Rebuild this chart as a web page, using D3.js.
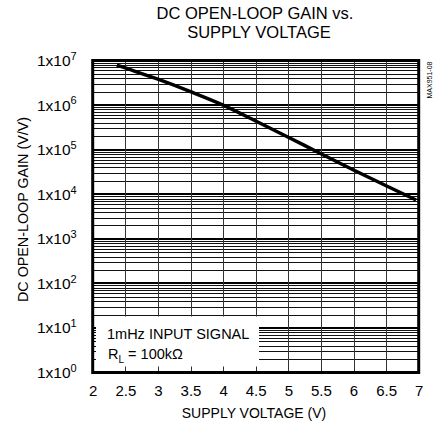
<!DOCTYPE html>
<html lang="en">
<head>
<meta charset="utf-8">
<title>DC Open-Loop Gain vs. Supply Voltage</title>
<script src="https://cdn.jsdelivr.net/npm/d3@7"></script>
<style>
  body { margin: 0; background: #fff; }
  svg text { font-family: "Liberation Sans", Arial, sans-serif; fill: #000; }
</style>
</head>
<body>
<svg id="chart" width="437" height="433"></svg>
<script>
// curve
var volts = [2.37, 2.5, 3.0, 3.5, 4.0, 4.5, 5.0, 5.5, 6.0, 6.5, 6.96];
var gain = [7.9e6, 6.8e6, 3.8e6, 2.0e6, 1.0e6, 4.4e5, 1.9e5, 8.1e4, 3.5e4, 1.55e4, 7.4e3];

var xTicks = [2, 2.5, 3, 3.5, 4, 4.5, 5, 5.5, 6, 6.5, 7];
var yTicks = [1e0, 1e1, 1e2, 1e3, 1e4, 1e5, 1e6, 1e7];
var yExp = ["0", "1", "2", "3", "4", "5", "6", "7"];

var svg = d3.select("#chart");

var x = d3.scaleLinear().domain([2, 7]).range([92.7, 418.7]);
var y = d3.scaleLog().domain([1, 1e7]).range([372.5, 60.5]);

function px(v) { return Math.round(v) + 0.5; }

// minor horizontal grid
var grid = svg.append("g");
grid.selectAll(".minor")
    .data(y.ticks().filter(function(d) { return yTicks.indexOf(d) < 0; }))
    .enter().append("line")
    .attr("x1", x(2)).attr("x2", x(7))
    .attr("y1", function(d) { return px(y(d)); })
    .attr("y2", function(d) { return px(y(d)); })
    .attr("stroke", "#111").attr("stroke-width", 1);

// decade lines
grid.selectAll(".major")
    .data(yTicks.slice(1, -1))
    .enter().append("line")
    .attr("x1", x(2)).attr("x2", x(7))
    .attr("y1", function(d) { return Math.round(y(d)); })
    .attr("y2", function(d) { return Math.round(y(d)); })
    .attr("stroke", "#000").attr("stroke-width", 2);

// vertical grid
grid.selectAll(".vert")
    .data(xTicks.slice(1, -1))
    .enter().append("line")
    .attr("x1", function(d) { return px(x(d)); })
    .attr("x2", function(d) { return px(x(d)); })
    .attr("y1", y(1e7)).attr("y2", y(1))
    .attr("stroke", "#333").attr("stroke-width", 1);

// note box
svg.append("rect")
    .attr("x", 96).attr("y", 316.5)
    .attr("width", 163).attr("height", 50)
    .attr("fill", "#fff");

svg.append("text")
    .attr("x", 107).attr("y", 339)
    .attr("font-size", 14.5)
    .text("1mHz INPUT SIGNAL");

var rl = svg.append("text")
    .attr("x", 108).attr("y", 359)
    .attr("font-size", 14.5);
rl.append("tspan").text("R");
rl.append("tspan").attr("font-size", 10).attr("dy", 4).text("L");
rl.append("tspan").attr("dy", -4).text(" = 100k\u03A9");

// curve
var line = d3.line()
    .x(function(d, i) { return x(volts[i]); })
    .y(function(d) { return y(d); })
    .curve(d3.curveMonotoneX);

svg.append("path")
    .datum(gain)
    .attr("d", line)
    .attr("fill", "none")
    .attr("stroke", "#000")
    .attr("stroke-width", 3.5);

// frame
svg.append("rect")
    .attr("x", x(2)).attr("y", y(1e7))
    .attr("width", x(7) - x(2)).attr("height", y(1) - y(1e7))
    .attr("fill", "none")
    .attr("stroke", "#000")
    .attr("stroke-width", 3);

// axes
var xAxis = svg.append("g")
    .attr("transform", "translate(0," + y(1) + ")")
    .call(d3.axisBottom(x).tickValues(xTicks).tickSize(0).tickPadding(12.5)
        .tickFormat(function(d) { return String(d); }));
xAxis.select(".domain").remove();
xAxis.selectAll("text").attr("font-size", 15).attr("font-family", null);

var yAxis = svg.append("g")
    .attr("transform", "translate(" + x(2) + ",0)")
    .call(d3.axisLeft(y).tickValues(yTicks).tickSize(0).tickPadding(16)
        .tickFormat(function() { return ""; }));
yAxis.select(".domain").remove();
yAxis.selectAll("text")
    .attr("font-size", 15.5).attr("font-family", null)
    .each(function(d, i) {
        var t = d3.select(this);
        t.append("tspan").text("1x10");
        t.append("tspan").attr("font-size", 11).attr("dy", "-0.55em").text(yExp[i]);
    });

// titles
var title = svg.append("text")
    .attr("text-anchor", "middle")
    .attr("font-size", 16.5);
title.append("tspan").attr("x", 255).attr("y", 18.5).text("DC OPEN-LOOP GAIN vs.");
title.append("tspan").attr("x", 259).attr("y", 37.5).text("SUPPLY VOLTAGE");

svg.append("text")
    .attr("x", 254).attr("y", 418)
    .attr("text-anchor", "middle")
    .attr("font-size", 14)
    .text("SUPPLY VOLTAGE (V)");

svg.append("text")
    .attr("transform", "translate(28,209.5) rotate(-90)")
    .attr("text-anchor", "middle")
    .attr("font-size", 15)
    .attr("textLength", 185)
    .attr("lengthAdjust", "spacingAndGlyphs")
    .text("DC OPEN-LOOP GAIN (V/V)");

svg.append("text")
    .attr("transform", "translate(431.5,80) rotate(-90)")
    .attr("text-anchor", "middle")
    .attr("font-size", 7)
    .text("MAX951-08");
</script>
</body>
</html>
